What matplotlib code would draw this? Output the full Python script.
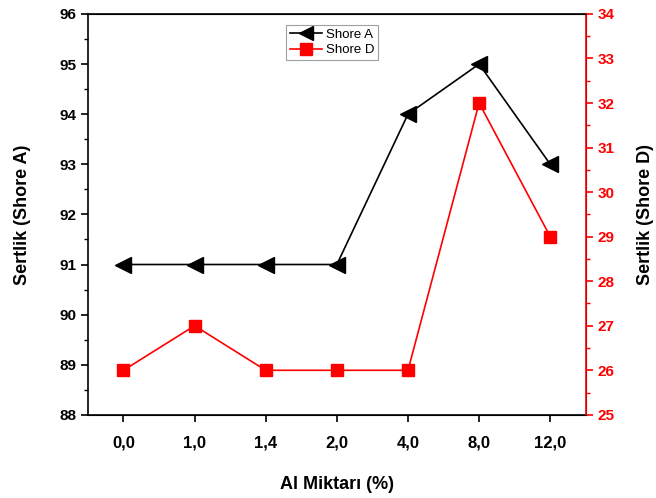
import matplotlib
matplotlib.use("Agg")
import matplotlib.pyplot as plt
from matplotlib.ticker import MultipleLocator

plt.rcParams['font.family'] = ['Liberation Sans', 'DejaVu Sans']

# Hardness values by Al content
al_labels = ['0,0', '1,0', '1,4', '2,0', '4,0', '8,0', '12,0']
shore_a = [91, 91, 91, 91, 94, 95, 93]
shore_d = [26, 27, 26, 26, 26, 32, 29]

x = list(range(len(al_labels)))

fig = plt.figure(figsize=(6.56, 4.98), dpi=100)
ax = fig.add_axes([0.134, 0.167, 0.759, 0.805])
ax2 = ax.twinx()

la, = ax.plot(x, shore_a, color='black', marker='<', markersize=11, lw=1.2, label='Shore A')
ld, = ax2.plot(x, shore_d, color='red', marker='s', markersize=9, lw=1.2, label='Shore D')

ax.set_xlim(-0.5, 6.5)
ax.set_ylim(88, 96)
ax2.set_ylim(25, 34)

ax.set_xticks(x)
ax.set_xticklabels(al_labels)
ax.yaxis.set_major_locator(MultipleLocator(1))
ax.yaxis.set_minor_locator(MultipleLocator(0.5))
ax2.yaxis.set_major_locator(MultipleLocator(1))
ax2.yaxis.set_minor_locator(MultipleLocator(0.5))

for lab in ax.get_xticklabels() + ax.get_yticklabels():
    lab.set_fontweight('bold')
ax.tick_params(axis='x', labelsize=12, direction='out', length=5, width=1.2, pad=10)
ax.tick_params(axis='y', labelsize=11, direction='out', length=5, width=1.2)
ax.tick_params(axis='y', which='minor', direction='out', length=3, width=1)

ax2.tick_params(axis='y', colors='red', labelsize=11, direction='out', length=5, width=1.2)
ax2.tick_params(axis='y', which='minor', colors='red', direction='out', length=3, width=1)
for lab in ax2.get_yticklabels():
    lab.set_fontweight('bold')

for s in ['left', 'bottom', 'top']:
    ax.spines[s].set_linewidth(1.2)
ax2.spines['right'].set_color('red')
ax2.spines['right'].set_linewidth(1.2)
ax2.spines['left'].set_visible(False)

ax.set_xlabel('Al Miktarı (%)', fontsize=13, fontweight='bold', labelpad=18)
ax.set_ylabel('Sertlik (Shore A)', fontsize=13, fontweight='bold', labelpad=20)
ax2.set_ylabel('Sertlik (Shore D)', fontsize=13, fontweight='bold', labelpad=16)

leg = ax.legend(handles=[la, ld], loc='upper left', bbox_to_anchor=(0.385, 0.99),
                fontsize=9.5, frameon=True, fancybox=False, edgecolor='#888888',
                handlelength=2.4, borderpad=0.3, labelspacing=0.25, handletextpad=0.3,
                markerscale=0.9)
leg.get_frame().set_linewidth(0.8)

fig.savefig('out.png', dpi=100)
